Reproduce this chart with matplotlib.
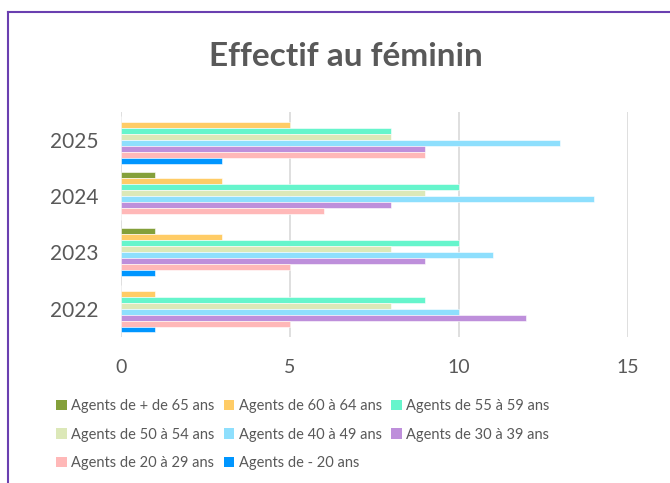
import numpy as np
import matplotlib.pyplot as plt
from matplotlib.lines import Line2D
from matplotlib.patches import Patch

plt.rcParams['font.family'] = ['Lato', 'DejaVu Sans']

years = ['2022', '2023', '2024', '2025']
series = ['Agents de + de 65 ans', 'Agents de 60 à 64 ans', 'Agents de 55 à 59 ans',
          'Agents de 50 à 54 ans', 'Agents de 40 à 49 ans', 'Agents de 30 à 39 ans',
          'Agents de 20 à 29 ans', 'Agents de - 20 ans']
colors = ['#84A03A', '#FFCC66', '#66F5CC', '#DCE8B8', '#8EDFFD', '#BE8FDB',
          '#FFB8B8', '#0096FF']

# values per series, in the order 2022, 2023, 2024, 2025
plus65 = [0, 1, 1, 0]
a60_64 = [1, 3, 3, 5]
a55_59 = [9, 10, 10, 8]
a50_54 = [8, 8, 9, 8]
a40_49 = [10, 11, 14, 13]
a30_39 = [12, 9, 8, 9]
a20_29 = [5, 5, 6, 9]
moins20 = [1, 1, 0, 3]
values = [plus65, a60_64, a55_59, a50_54, a40_49, a30_39, a20_29, moins20]

grey = '#595959'
fig = plt.figure(figsize=(6.7, 4.83), dpi=100)
ax = fig.add_axes([0.1806, 0.3029, 0.7563, 0.4658])

y = np.arange(len(years))
h = 0.85 / len(series)
for i, (name, vals, col) in enumerate(zip(series, values, colors)):
    off = (3.5 - i) * h
    ax.barh(y + off, vals, height=h, color=col, edgecolor='white', linewidth=0.4,
            label=name, zorder=3)

ax.set_xlim(0, 15)
ax.set_ylim(-0.5, 3.5)
ax.set_xticks([0, 5, 10, 15])
ax.set_yticks(y)
ax.set_yticklabels(years)
ax.grid(axis='x', color='#D9D9D9', linewidth=1.2, zorder=0)
for s in ax.spines.values():
    s.set_visible(False)
ax.tick_params(length=0, colors=grey, labelsize=14)
ax.tick_params(axis='y', pad=16, labelsize=15)
ax.tick_params(axis='x', pad=16)

fig.text(0.516, 0.882, 'Effectif au féminin', ha='center', va='center',
         fontsize=24, fontweight='bold', color=grey)

# legend row-major -> reorder for column-major fill
order = [0, 3, 6, 1, 4, 7, 2, 5]
handles = [Patch(facecolor=colors[k], edgecolor='none') for k in order]
labels = [series[k] for k in order]
fig.legend(handles, labels, ncol=3, loc='upper left', bbox_to_anchor=(0.075, 0.186),
           frameon=False, fontsize=10.5, labelcolor=grey, handlelength=0.75,
           handleheight=0.75, handletextpad=0.3, columnspacing=0.6,
           labelspacing=1.0, borderaxespad=0)

# purple frame (left and top edges)
fig.add_artist(Line2D([8 / 670, 8 / 670], [0, 1 - 12 / 483], color='#6A3FB0',
                      linewidth=1.5, transform=fig.transFigure))
fig.add_artist(Line2D([8 / 670, 1], [1 - 12 / 483, 1 - 12 / 483], color='#6A3FB0',
                      linewidth=1.5, transform=fig.transFigure))

fig.savefig('out.png', dpi=100, facecolor='white')
